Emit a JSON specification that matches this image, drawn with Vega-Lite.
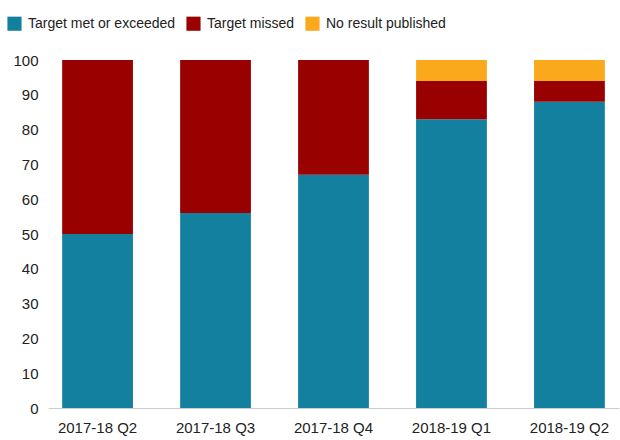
{
  "$schema": "https://vega.github.io/schema/vega-lite/v6.json",
  "width": 571,
  "height": 348,
  "autosize": "none",
  "padding": {"left": 48, "top": 60, "right": 1, "bottom": 32},
  "background": "white",
  "config": {
    "view": {"stroke": null},
    "font": "Liberation Sans",
    "axis": {"labelFont": "Liberation Sans", "labelColor": "#222222"},
    "legend": {"labelFont": "Liberation Sans"}
  },
  "data": {
    "values": [
      {"quarter": "2017-18 Q2", "status": "Target met or exceeded", "rank": 1, "value": 50},
      {"quarter": "2017-18 Q2", "status": "Target missed", "rank": 2, "value": 50},
      {"quarter": "2017-18 Q2", "status": "No result published", "rank": 3, "value": 0},
      {"quarter": "2017-18 Q3", "status": "Target met or exceeded", "rank": 1, "value": 56},
      {"quarter": "2017-18 Q3", "status": "Target missed", "rank": 2, "value": 44},
      {"quarter": "2017-18 Q3", "status": "No result published", "rank": 3, "value": 0},
      {"quarter": "2017-18 Q4", "status": "Target met or exceeded", "rank": 1, "value": 67},
      {"quarter": "2017-18 Q4", "status": "Target missed", "rank": 2, "value": 33},
      {"quarter": "2017-18 Q4", "status": "No result published", "rank": 3, "value": 0},
      {"quarter": "2018-19 Q1", "status": "Target met or exceeded", "rank": 1, "value": 83},
      {"quarter": "2018-19 Q1", "status": "Target missed", "rank": 2, "value": 11},
      {"quarter": "2018-19 Q1", "status": "No result published", "rank": 3, "value": 6},
      {"quarter": "2018-19 Q2", "status": "Target met or exceeded", "rank": 1, "value": 88},
      {"quarter": "2018-19 Q2", "status": "Target missed", "rank": 2, "value": 6},
      {"quarter": "2018-19 Q2", "status": "No result published", "rank": 3, "value": 6}
    ]
  },
  "mark": {"type": "bar"},
  "encoding": {
    "x": {
      "field": "quarter",
      "type": "nominal",
      "sort": null,
      "scale": {"paddingInner": 0.4, "paddingOuter": 0.12},
      "axis": {
        "title": null,
        "labelAngle": 0,
        "labelFontSize": 15,
        "labelPadding": 12,
        "ticks": false,
        "domainColor": "#cccccc",
        "domainWidth": 1
      }
    },
    "y": {
      "field": "value",
      "type": "quantitative",
      "stack": "zero",
      "scale": {"domain": [0, 100], "nice": false},
      "axis": {
        "title": null,
        "values": [0, 10, 20, 30, 40, 50, 60, 70, 80, 90, 100],
        "grid": false,
        "domain": false,
        "ticks": false,
        "labelFontSize": 15,
        "labelPadding": 10
      }
    },
    "order": {"field": "rank", "type": "quantitative"},
    "color": {
      "field": "status",
      "type": "nominal",
      "scale": {
        "domain": ["Target met or exceeded", "Target missed", "No result published"],
        "range": ["#13809f", "#990000", "#f9a91b"]
      },
      "legend": {
        "title": null,
        "orient": "none",
        "direction": "horizontal",
        "legendX": -41,
        "legendY": -44,
        "symbolType": "square",
        "symbolSize": 200,
        "symbolStrokeWidth": 0,
        "labelFontSize": 14,
        "labelColor": "#222222",
        "columnPadding": 10,
        "labelOffset": 6
      }
    }
  }
}
